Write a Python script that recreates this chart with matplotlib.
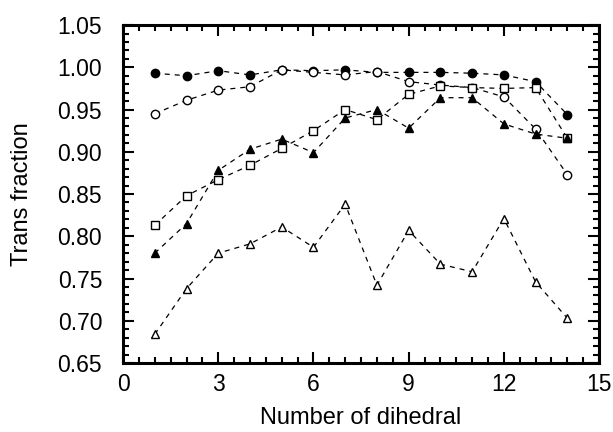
import numpy as np
import matplotlib
matplotlib.use("Agg")
import matplotlib.pyplot as plt
from matplotlib.ticker import MultipleLocator

plt.rcParams['font.family'] = ['Liberation Sans', 'DejaVu Sans']

# dihedral index
dihedral = [1, 2, 3, 4, 5, 6, 7, 8, 9, 10, 11, 12, 13, 14]

# trans fraction for each series
filled_circle = [0.993, 0.990, 0.996, 0.991, 0.997, 0.996, 0.997, 0.994, 0.994,
                 0.994, 0.993, 0.991, 0.983, 0.944]
open_circle = [0.945, 0.961, 0.973, 0.977, 0.997, 0.994, 0.991, 0.995, 0.983,
               0.979, 0.976, 0.965, 0.927, 0.873]
open_square = [0.813, 0.848, 0.867, 0.884, 0.904, 0.925, 0.950, 0.938, 0.968,
               0.978, 0.976, 0.975, 0.976, 0.916]
filled_triangle = [0.780, 0.815, 0.878, 0.903, 0.915, 0.899, 0.940, 0.950, 0.928,
                   0.964, 0.964, 0.933, 0.921, 0.916]
open_triangle = [0.684, 0.738, 0.780, 0.791, 0.811, 0.787, 0.838, 0.742, 0.807,
                 0.767, 0.758, 0.821, 0.746, 0.703]

fig = plt.figure(figsize=(6.13, 4.32), dpi=100)
ax = fig.add_axes([0.2007, 0.1597, 0.7766, 0.7823])

line_kw = dict(color='black', linestyle=(0, (4, 4)), linewidth=0.9, markersize=6)
ax.plot(dihedral, filled_circle, marker='o', markerfacecolor='black', **line_kw)
ax.plot(dihedral, open_circle, marker='o', markerfacecolor='white', **line_kw)
ax.plot(dihedral, open_square, marker='s', markerfacecolor='white', **line_kw)
ax.plot(dihedral, filled_triangle, marker='^', markerfacecolor='black', **line_kw)
ax.plot(dihedral, open_triangle, marker='^', markerfacecolor='white', **line_kw)

ax.set_xlim(0, 15)
ax.set_ylim(0.65, 1.05)
ax.xaxis.set_major_locator(MultipleLocator(3))
ax.xaxis.set_minor_locator(MultipleLocator(0.5))
ax.yaxis.set_major_locator(MultipleLocator(0.05))
ax.yaxis.set_minor_locator(MultipleLocator(0.01))
ax.yaxis.set_major_formatter(plt.FormatStrFormatter('%.2f'))

ax.tick_params(which='both', direction='in', top=True, right=True, width=1.5,
               labelsize=16.5)
ax.tick_params(which='major', length=8)
ax.tick_params(which='minor', length=4)
ax.tick_params(axis='x', which='major', pad=7)
ax.tick_params(axis='y', which='major', pad=15)
for s in ax.spines.values():
    s.set_linewidth(2.2)

ax.set_xlabel("Number of dihedral", fontsize=17, labelpad=8)
ax.set_ylabel("Trans fraction", fontsize=17, labelpad=18)

fig.savefig("out.png", dpi=100)
